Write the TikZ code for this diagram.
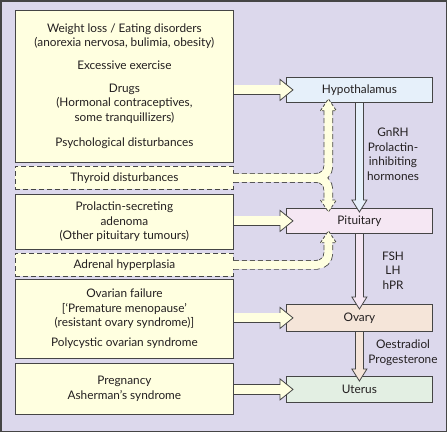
\documentclass[tikz,border=0pt]{standalone}
\usepackage{fontspec}
\setmainfont{Lato}
\usetikzlibrary{calc}
\definecolor{lav}{HTML}{DCD8EC}
\definecolor{edge}{HTML}{454545}
\definecolor{cream}{HTML}{FFFFE0}
\definecolor{hypc}{HTML}{E6F0FA}
\definecolor{pitc}{HTML}{F5E7F3}
\definecolor{ovc}{HTML}{F5E5D9}
\definecolor{utc}{HTML}{E3EFE3}
\definecolor{txt}{HTML}{231F20}
\newcommand\fs{\fontsize{11.8}{14.5}\selectfont}
\newcommand\sarrow[6]{%
  \pgfmathsetmacro\hil{#6-2}%
  \pgfmathsetmacro\olw{#4+1.6}%
  \coordinate (hb) at ($(#3)!#6pt!(#2)$);
  \coordinate (hi) at ($(#3)!\hil pt!(#2)$);
  \draw[edge, line width=\olw pt] (#2) -- (hb);
  \draw[edge, line width=0.8pt, fill=#1, line join=miter]
    ($(hb)!#5pt!90:(#3)$) -- (#3) -- ($(hb)!#5pt!-90:(#3)$) -- cycle;
  \draw[#1, line width=#4pt] (#2) -- (hi);
}
\begin{document}
\begin{tikzpicture}[x=1pt,y=-1pt,
  box/.style={draw=edge, line width=0.8pt, anchor=north west, inner sep=0pt,
    align=center, text=txt, font=\fs},
  ybox/.style={box, fill=cream, minimum width=218pt},
  dbox/.style={ybox, dash pattern=on 5pt off 3pt},
  rbox/.style={box, minimum width=146pt},
  lab/.style={align=center, text=txt, font=\fs, inner sep=0pt}]
\useasboundingbox (0,0) rectangle (447,432);
\draw[fill=lav, draw=edge, line width=1.5pt] (0.75,0.75) rectangle (446.25,431.25);

% left boxes
\node[ybox, minimum height=152pt] (b1) at (15,10)
  {Weight loss / Eating disorders\\(anorexia nervosa, bulimia, obesity)\\[8pt]
   Excessive exercise\\[8.5pt]Drugs\\(Hormonal contraceptives,\\some tranquillizers)\\[11pt]
   Psychological disturbances};
\node[dbox, minimum height=23pt] (thy) at (15,166) {Thyroid disturbances};
\node[ybox, minimum height=55pt] (b2) at (15,194)
  {Prolactin-secreting\\adenoma\\(Other pituitary tumours)};
\node[dbox, minimum height=23pt] (adr) at (15,253) {Adrenal hyperplasia};
\node[ybox, minimum height=79pt] (b3) at (15,279)
  {Ovarian failure\\{}{[}‘Premature menopause’\\(resistant ovary syndrome){]}\\[5pt]
   Polycystic ovarian syndrome};
\node[ybox, minimum height=51pt] (b4) at (15,363) {Pregnancy\\Asherman’s syndrome};

% right boxes
\node[rbox, fill=hypc, minimum height=25pt] (hyp) at (286,77) {Hypothalamus};
\node[rbox, fill=pitc, minimum height=25pt] (pit) at (286,208) {Pituitary};
\node[rbox, fill=ovc, minimum height=27pt] (ova) at (286,304) {Ovary};
\node[rbox, fill=utc, minimum height=26pt] (ute) at (286,376) {Uterus};

% labels
\node[lab] (l1) at (393,154.5) {GnRH\\Prolactin-\\inhibiting\\hormones};
\node[lab] (l2) at (393,270.5) {FSH\\LH\\hPR};
\node[lab] (l3) at (403,352.5) {Oestradiol\\Progesterone};

% vertical solid arrows
\sarrow{hypc}{hyp.south}{$(pit.north)+(0,4)$}{7}{7.5}{12}
\sarrow{pitc}{pit.south}{$(ova.north)+(0,5)$}{7}{7.5}{12}
\sarrow{ovc}{ova.south}{$(ute.north)+(0,5)$}{7}{7.5}{12}

% horizontal yellow arrows
\sarrow{cream}{b1.east |- hyp.west}{$(hyp.west)+(7,0)$}{9}{10.5}{13}
\sarrow{cream}{b2.east |- pit.west}{$(pit.west)+(7,0)$}{9}{10.5}{13}
\sarrow{cream}{b3.east |- ova.west}{$(ova.west)+(7,0)$}{9}{10.5}{13}
\sarrow{cream}{b4.east |- ute.west}{$(ute.west)+(7,0)$}{9}{10.5}{13}

% dashed arrows
\coordinate (tA) at ($(hyp.south)+(-31,-4)$);
\coordinate (bA) at ($(tA)+(0,12)$);
\coordinate (iA) at ($(tA)+(0,10)$);
\coordinate (tB) at ($(pit.north)+(-31,4)$);
\coordinate (bB) at ($(tB)+(0,-12)$);
\coordinate (iB) at ($(tB)+(0,-10)$);
\coordinate (tC) at ($(pit.south)+(-31,-3)$);
\coordinate (bC) at ($(tC)+(0,12)$);
\coordinate (iC) at ($(tC)+(0,10)$);
\coordinate (sA) at ($(thy.east)+(-1.5,0)$);
\coordinate (sC) at ($(adr.east)+(-1.5,0)$);
\begin{scope}[color=edge, line width=9.6pt, dash pattern=on 5pt off 3pt, rounded corners=12pt]
  \draw (thy.east) -| (bA);
  \draw (thy.east) -| (bB);
  \draw (adr.east) -| (bC);
\end{scope}
\begin{scope}[draw=edge, fill=cream, line width=0.8pt, dash pattern=on 3pt off 2pt, line join=miter]
  \filldraw ($(bA)+(-8,0)$) -- (tA) -- ($(bA)+(8,0)$) -- cycle;
  \filldraw ($(bB)+(-8,0)$) -- (tB) -- ($(bB)+(8,0)$) -- cycle;
  \filldraw ($(bC)+(-8,0)$) -- (tC) -- ($(bC)+(8,0)$) -- cycle;
\end{scope}
\begin{scope}[color=cream, line width=8pt, rounded corners=12pt]
  \draw (sA) -| (iA);
  \draw (sA) -| (iB);
  \draw (sC) -| (iC);
\end{scope}
\end{tikzpicture}
\end{document}
